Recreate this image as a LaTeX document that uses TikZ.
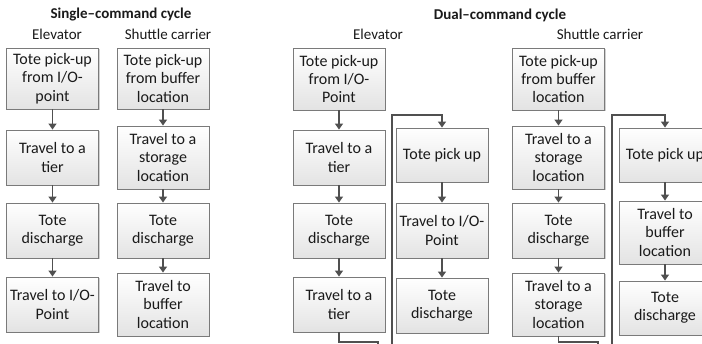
\documentclass[tikz,border=0pt]{standalone}
\usepackage{fontspec}
\setmainfont{Carlito}
\usetikzlibrary{arrows.meta,shadows}
\definecolor{linec}{HTML}{505050}
\definecolor{boxline}{HTML}{7A7A7A}
\definecolor{txt}{HTML}{1A1A1A}
\tikzset{
  flowbox/.style={draw=boxline, line width=0.9pt, top color=white, bottom color=gray!22,
    minimum width=92pt, minimum height=55pt, inner sep=1pt, align=center, text=txt,
    font=\fontsize{16}{18.3}\selectfont,
    drop shadow={shadow xshift=1.2pt, shadow yshift=-1.2pt, fill=gray!45, opacity=0.8}},
  conn/.style={draw=linec, line width=1.3pt, -{Triangle[width=8pt,length=6pt]}},
  plain/.style={draw=linec, line width=1.3pt},
  head/.style={text=txt, font=\fontsize{15}{17}\selectfont\bfseries, inner sep=0pt},
  sub/.style={text=txt, font=\fontsize{15}{17}\selectfont, inner sep=0pt}
}
\begin{document}
\begin{tikzpicture}[x=1pt,y=-1pt]
\useasboundingbox (0,0) rectangle (702,344);
\fill[white] (0,0) rectangle (702,344);
\clip (0,0) rectangle (702,344);

% headings
\node[head] (t1) at (121,15) {Single–command cycle};
\node[sub] (t1e) at (57,34) {Elevator};
\node[sub] (t1s) at (168,34) {Shuttle carrier};
\node[head] (t2) at (500,15) {Dual–command cycle};
\node[sub] (t2e) at (378,34) {Elevator};
\node[sub] (t2s) at (600,34) {Shuttle carrier};

% single-command, elevator
\node[flowbox, minimum height=61pt] (E1) at (52.5,78.5) {Tote pick-up\\from I/O-\\point};
\node[flowbox] (E2) at (52.5,157.5) {Travel to a\\tier};
\node[flowbox] (E3) at (52.5,230.5) {Tote\\discharge};
\node[flowbox] (E4) at (52.5,304.5) {Travel to I/O-\\Point};
% single-command, shuttle
\node[flowbox, minimum height=61pt] (S1) at (163,78.5) {Tote pick-up\\from buffer\\location};
\node[flowbox, minimum height=63pt] (S2) at (163,157.5) {Travel to a\\storage\\location};
\node[flowbox] (S3) at (163,230.5) {Tote\\discharge};
\node[flowbox, minimum height=63pt] (S4) at (163,304.5) {Travel to\\buffer\\location};

% dual-command, elevator
\node[flowbox, minimum height=62pt] (A1) at (339,79) {Tote pick-up\\from I/O-\\Point};
\node[flowbox] (A2) at (339,157.5) {Travel to a\\tier};
\node[flowbox] (A3) at (339,230.5) {Tote\\discharge};
\node[flowbox] (A4) at (339,304.5) {Travel to a\\tier};
\node[flowbox, minimum height=54pt] (B1) at (442,155) {Tote pick up};
\node[flowbox] (B2) at (442,230.5) {Travel to I/O-\\Point};
\node[flowbox] (B3) at (442,305.5) {Tote\\discharge};

% dual-command, shuttle
\node[flowbox, minimum height=62pt] (C1) at (558.5,79) {Tote pick-up\\from buffer\\location};
\node[flowbox, minimum height=63pt] (C2) at (558.5,157.5) {Travel to a\\storage\\location};
\node[flowbox] (C3) at (558.5,230.5) {Tote\\discharge};
\node[flowbox, minimum height=63pt] (C4) at (558.5,304.5) {Travel to a\\storage\\location};
\node[flowbox, minimum height=54pt] (D1) at (665,155) {Tote pick up};
\node[flowbox, minimum height=63pt] (D2) at (665,232.5) {Travel to\\buffer\\location};
\node[flowbox, minimum height=54pt] (D3) at (665,308) {Tote\\discharge};

% straight connectors
\foreach \a/\b in {E1/E2,E2/E3,E3/E4,S1/S2,S2/S3,S3/S4,A1/A2,A2/A3,A3/A4,B1/B2,B2/B3,C1/C2,C2/C3,C3/C4,D1/D2,D2/D3}
  \draw[conn] (\a.south) -- (\b.north);

% loop connectors (run out of the picture)
\coordinate (la) at (392,360);
\coordinate (lc) at (612,360);
\draw[conn] (la) -- (392,115) -| (B1.north);
\draw[conn] (lc) -- (612,115) -| (D1.north);
\coordinate (ba) at (378,360);
\coordinate (bc) at (598,360);
\draw[plain] (A4.south) |- (378,342) -- (ba);
\draw[plain] (C4.south) |- (598,342) -- (bc);
\end{tikzpicture}
\end{document}
